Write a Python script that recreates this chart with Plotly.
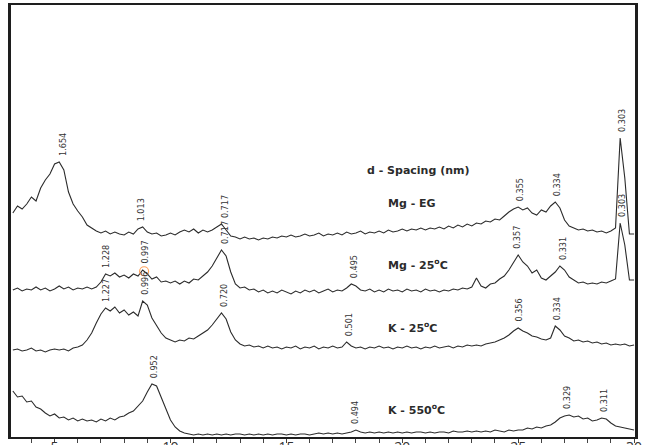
import numpy as np
import plotly.graph_objects as go

# 2-theta scan positions (degrees, Cu K-alpha), 0.2 deg steps
two_theta = np.round(np.arange(3.2, 30.01, 0.2), 1)

# Stacked diffractogram intensities (a.u., offset per treatment)
mg_eg = [
    224, 231, 228, 233, 240, 236, 249, 257, 263, 273,
    275, 267, 245, 233, 226, 220, 212, 209, 206, 204,
    206, 203, 205, 203, 202, 205, 203, 208, 210, 205,
    203, 204, 201, 202, 204, 202, 205, 207, 205, 208,
    204, 207, 205, 207, 210, 213, 207, 201, 200, 198,
    200, 198, 199, 197, 199, 198, 200, 199, 201, 200,
    202, 200, 201, 203, 201, 202, 204, 201, 203, 202,
    204, 202, 205, 203, 204, 206, 203, 205, 204, 206,
    204, 207, 205, 206, 208, 206, 208, 207, 209, 207,
    209, 208, 210, 208, 211, 209, 212, 210, 213, 211,
    214, 213, 216, 215, 218, 217, 221, 225, 228, 230,
    227, 229, 224, 222, 227, 225, 231, 235, 229, 217,
    211, 209, 207, 208, 206, 207, 205, 206, 204, 206,
    209, 299, 259, 203, 203,
]

mg_25 = [
    147, 149, 146, 148, 147, 150, 147, 149, 146, 148,
    151, 148, 150, 147, 149, 148, 150, 148, 150, 155,
    163, 161, 164, 160, 162, 159, 163, 161, 167, 163,
    158, 160, 155, 156, 154, 156, 153, 156, 154, 158,
    157, 161, 165, 171, 179, 187, 181, 165, 153, 149,
    150, 147, 148, 145, 147, 144, 146, 144, 147, 145,
    143, 146, 144, 147, 145, 147, 144, 146, 148, 145,
    147, 146, 149, 153, 151, 147, 146, 148, 145, 147,
    145, 148, 146, 147, 145, 148, 146, 147, 145, 148,
    146, 147, 145, 147, 146, 148, 147, 149, 148, 150,
    159, 151, 149, 153, 154, 158, 161, 167, 175, 182,
    175, 171, 164, 167, 159, 157, 161, 165, 171, 167,
    160, 157, 154, 155, 153, 154, 153, 155, 154, 156,
    158, 214, 192, 157, 157,
]

k_25 = [
    87, 88, 86, 87, 89, 86, 87, 85, 87, 88,
    87, 88, 86, 89, 90, 92, 97, 104, 114, 123,
    129, 126, 130, 124, 127, 122, 125, 121, 136, 132,
    119, 111, 104, 99, 97, 95, 97, 96, 99, 98,
    101, 104, 107, 112, 118, 124, 118, 105, 97, 93,
    91, 92, 90, 91, 89, 91, 89, 90, 88, 90,
    89, 91, 88, 90, 89, 91, 88, 90, 89, 91,
    89, 90, 95, 91, 89, 90, 88, 90, 89, 91,
    89, 90, 88, 90, 89, 91, 89, 90, 88, 90,
    89, 91, 89, 90, 91, 89, 91, 90, 92, 91,
    92, 91, 93, 94, 95, 97, 99, 102, 106, 109,
    106, 104, 101, 100, 98, 97, 99, 111, 107, 101,
    99, 96, 97, 95, 96, 94, 95, 93, 94, 92,
    93, 92, 93, 91, 92,
]

k_550 = [
    46, 40, 41, 35, 36, 30, 28, 24, 21, 23,
    19, 20, 17, 19, 16, 18, 16, 17, 15, 18,
    16, 19, 17, 20, 21, 24, 26, 31, 36, 45,
    53, 51, 39, 27, 17, 10, 6, 4, 3, 2,
    3, 2, 3, 2, 3, 2, 3, 2, 3, 3,
    2, 3, 2, 3, 2, 3, 2, 3, 3, 2,
    3, 2, 3, 3, 2, 3, 4, 3, 4, 3,
    4, 3, 4, 5, 7, 5, 4, 5, 4, 5,
    4, 5, 4, 5, 4, 5, 4, 5, 5, 4,
    5, 4, 5, 5, 4, 6, 5, 5, 6, 5,
    6, 5, 6, 5, 7, 6, 5, 7, 6, 7,
    7, 9, 8, 10, 9, 11, 12, 15, 19, 21,
    22, 20, 21, 18, 19, 16, 17, 19, 18, 14,
    11, 10, 9, 8, 7,
]

# d-spacings (nm) marked on each pattern
peaks_mg_eg = ["1.654", "1.013", "0.717", "0.355", "0.334", "0.303"]
peaks_mg_25 = ["1.228", "0.997", "0.717", "0.495", "0.357", "0.331", "0.303"]
peaks_k_25 = ["1.227", "0.996", "0.720", "0.501", "0.356", "0.334"]
peaks_k_550 = ["0.952", "0.494", "0.329", "0.311"]

sample_names = ["Mg - EG", "Mg - 25<sup>o</sup>C", "K - 25<sup>o</sup>C", "K - 550<sup>o</sup>C"]
header = "d - Spacing (nm)"

WAVELENGTH = 0.15406  # nm, Cu K-alpha

series = [mg_eg, mg_25, k_25, k_550]
peak_sets = [peaks_mg_eg, peaks_mg_25, peaks_k_25, peaks_k_550]

LINE = "#2b2b2b"
LABEL_FONT = dict(family="Liberation Sans Narrow, Arial Narrow, DejaVu Sans Condensed, sans-serif",
                  size=9, color="#333333")
NAME_FONT = dict(family="DejaVu Sans, Verdana, sans-serif", size=11, color="#2b2b2b")


def bragg_two_theta(d_nm):
    return 2.0 * np.degrees(np.arcsin(WAVELENGTH / (2.0 * d_nm)))


fig = go.Figure()
annotations = []

for ys, peaks in zip(series, peak_sets):
    ys = np.asarray(ys, dtype=float)
    fig.add_trace(go.Scatter(x=two_theta, y=ys, mode="lines",
                             line=dict(color=LINE, width=1.1), hoverinfo="skip"))
    for lab in peaks:
        tt = bragg_two_theta(float(lab))
        win = np.abs(two_theta - tt) <= 0.25
        top = ys[win].max()
        annotations.append(dict(x=tt, y=top + 4, xref="x", yref="y", text=lab,
                                showarrow=False, textangle=-90, xanchor="center",
                                yanchor="bottom", font=LABEL_FONT))

# small ring drawn on the 0.997 nm reflection of the Mg-saturated sample
tt_ring = bragg_two_theta(0.997)
ring_y = float(np.interp(tt_ring, two_theta, np.asarray(mg_25, dtype=float)))
fig.add_trace(go.Scatter(x=[tt_ring], y=[ring_y], mode="markers",
                         marker=dict(symbol="circle-open", size=9,
                                     line=dict(color=LINE, width=1.2)),
                         hoverinfo="skip"))

# sample names and heading
name_pos = [(19.3, 234), (19.3, 173), (19.3, 110), (19.3, 28)]
for name, (nx, ny) in zip(sample_names, name_pos):
    annotations.append(dict(x=nx, y=ny, xref="x", yref="y", text="<b>%s</b>" % name,
                            showarrow=False, xanchor="left", yanchor="middle",
                            font=NAME_FONT))
annotations.append(dict(x=18.4, y=267, xref="x", yref="y", text="<b>%s</b>" % header,
                        showarrow=False, xanchor="left", yanchor="middle", font=NAME_FONT))

fig.update_layout(
    width=646, height=445,
    margin=dict(l=11, r=11, t=5, b=8, autoexpand=False),
    plot_bgcolor="white", paper_bgcolor="white",
    showlegend=False,
    annotations=annotations,
)
fig.update_xaxes(range=[3.12, 30.04], automargin=False,
                 showline=True, linewidth=2, linecolor="#1e1e1e",
                 mirror=True, showgrid=False, zeroline=False,
                 ticks="outside", ticklen=4, tickwidth=1, tickcolor="#444444",
                 tick0=0, dtick=5, ticklabelstandoff=-8,
                 minor=dict(dtick=1, ticks="outside", ticklen=4, tickwidth=1,
                            tickcolor="#444444", showgrid=False),
                 tickfont=dict(family="Open Sans, sans-serif", size=14, color="#333333"))
fig.update_yaxes(range=[0, 432], automargin=False,
                 showline=True, linewidth=3, linecolor="#1e1e1e",
                 mirror=True, showgrid=False, zeroline=False,
                 showticklabels=False, ticks="")

fig.write_html("out.html")
